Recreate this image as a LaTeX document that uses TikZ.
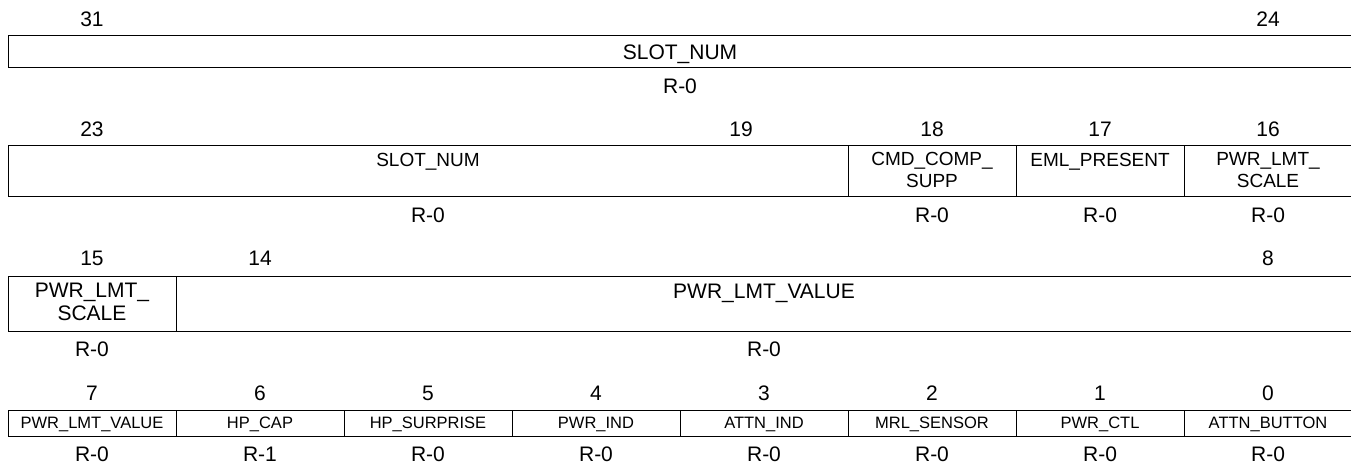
\documentclass[tikz,border=0pt]{standalone}
\usepackage{fontspec}
\setmainfont{Liberation Sans}
\begin{document}
\begin{tikzpicture}[x=1pt,y=-1pt,
  cell/.style={draw, line width=1.2pt, inner sep=0pt, anchor=north west},
  big/.style={font=\fontsize{21}{20}\selectfont, inner sep=0pt, anchor=base},
  midf/.style={font=\fontsize{19}{20}\selectfont, inner sep=0pt, anchor=base},
  smallf/.style={font=\fontsize{16.5}{18}\selectfont, inner sep=0pt, anchor=base},
  twoline/.style={inner sep=0pt, align=center, anchor=center}]
\useasboundingbox (0,0) rectangle (1351,466);

% ---------- row 1 : bits 31..24
\node[big] (b31) at (92,26.5) {31};
\node[big] (b24) at (1268,26.5) {24};
\node[cell, minimum width=1344pt, minimum height=32pt] (r1) at (8,35) {};
\node[big] (t1) at (680,59.5) {SLOT\_NUM};
\node[big] (a1) at (680,93.5) {R-0};

% ---------- row 2 : bits 23..16
\node[big] (b23) at (92,136.5) {23};
\node[big] (b19) at (741,136.5) {19};
\node[big] (b18) at (932,136.5) {18};
\node[big] (b17) at (1100,136.5) {17};
\node[big] (b16) at (1268,136.5) {16};
\node[cell, minimum width=840pt, minimum height=51pt] (r2a) at (8,145) {};
\node[cell, minimum width=168pt, minimum height=51pt] (r2b) at (848,145) {};
\node[cell, minimum width=168pt, minimum height=51pt] (r2c) at (1016,145) {};
\node[cell, minimum width=168pt, minimum height=51pt] (r2d) at (1184,145) {};
\node[midf] (t2a) at (428,166.8) {SLOT\_NUM};
\node[twoline, font=\fontsize{19}{22}\selectfont] (t2b) at (932,170) {CMD\_COMP\_\\SUPP};
\node[midf] (t2c) at (1100,166.8) {EML\_PRESENT};
\node[twoline, font=\fontsize{19}{22}\selectfont] (t2d) at (1268,170) {PWR\_LMT\_\\SCALE};
\node[big] (a2a) at (428,222.5) {R-0};
\node[big] (a2b) at (932,222.5) {R-0};
\node[big] (a2c) at (1100,222.5) {R-0};
\node[big] (a2d) at (1268,222.5) {R-0};

% ---------- row 3 : bits 15..8
\node[big] (b15) at (92,265.2) {15};
\node[big] (b14) at (260,265.2) {14};
\node[big] (b8) at (1268,265.2) {8};
\node[cell, minimum width=168pt, minimum height=55pt] (r3a) at (8,275.7) {};
\node[cell, minimum width=1176pt, minimum height=55pt] (r3b) at (176,275.7) {};
\node[twoline, font=\fontsize{21}{23}\selectfont] (t3a) at (92,302) {PWR\_LMT\_\\SCALE};
\node[big] (t3b) at (764,298.5) {PWR\_LMT\_VALUE};
\node[big] (a3a) at (92,356.5) {R-0};
\node[big] (a3b) at (764,356.5) {R-0};

% ---------- row 4 : bits 7..0
\foreach \i/\name/\acc in {0/PWR\_LMT\_VALUE/R-0, 1/HP\_CAP/R-1, 2/HP\_SURPRISE/R-0,
  3/PWR\_IND/R-0, 4/ATTN\_IND/R-0, 5/MRL\_SENSOR/R-0, 6/PWR\_CTL/R-0, 7/ATTN\_BUTTON/R-0}{
  \pgfmathtruncatemacro{\bit}{7-\i}
  \node[big] (b\bit) at ({92+168*\i},400.2) {\bit};
  \node[cell, minimum width=168pt, minimum height=26pt] (r4\i) at ({8+168*\i},410) {};
  \node[smallf] (t4\i) at ({92+168*\i},428.9) {\name};
  \node[big] (a4\i) at ({92+168*\i},461.5) {\acc};
}
\end{tikzpicture}
\end{document}
